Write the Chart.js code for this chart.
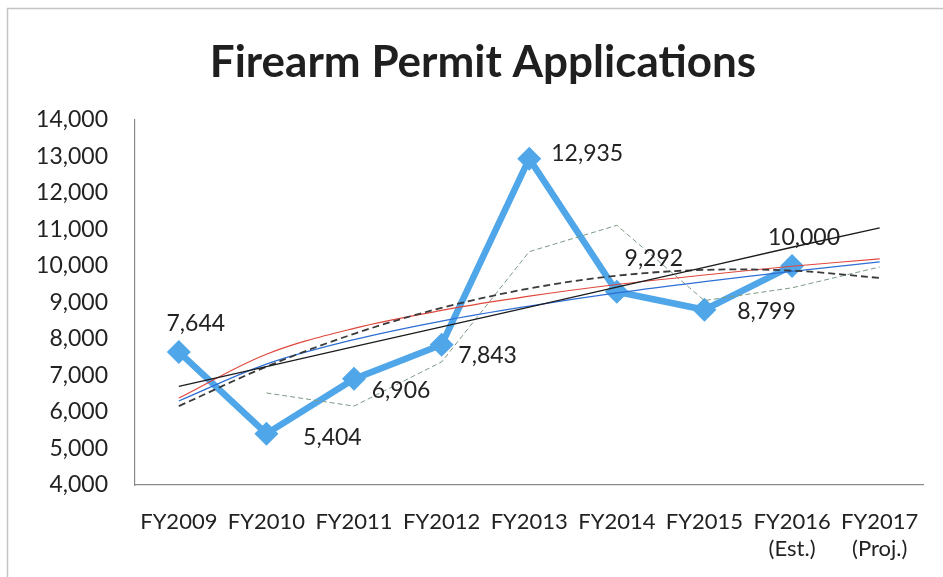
<!DOCTYPE html>
<html>
<head>
<meta charset="utf-8">
<script src="https://cdn.jsdelivr.net/npm/chart.js@4.4.0/dist/chart.umd.min.js"></script>
<style>
  html, body { margin: 0; padding: 0; background: #fff; }
</style>
</head>
<body>
<canvas id="permitChart" width="943" height="577"></canvas>
<script>
// Categories and values
const fiscalYears = ['FY2009', 'FY2010', 'FY2011', 'FY2012', 'FY2013', 'FY2014', 'FY2015', ['FY2016', '(Est.)'], ['FY2017', '(Proj.)']];
const applications = [7644, 5404, 6906, 7843, 12935, 9292, 8799, 10000, null];

// Trend lines
const linearTrend = [6700, 7240, 7790, 8330, 8870, 9420, 9960, 10510, 11040];
const polyTrend = [6160, 7240, 8140, 8850, 9380, 9730, 9890, 9870, 9670];
const logTrend = [6380, 7580, 8290, 8780, 9170, 9490, 9750, 9990, 10190];
const powerTrend = [6300, 7310, 7980, 8490, 8900, 9260, 9570, 9850, 10110];
const movingAvg = [null, 6520, 6160, 7370, 10390, 11110, 9050, 9400, 9970];

const yTicks = { min: 4000, max: 14000, step: 1000 };

// Label offsets from each point (px)
const labelOffsets = [[17, -28], [66, 4], [47, 12], [46, 11], [58, -5], [37, -33], [62, 2], [12, -28]];

Chart.defaults.font.family = "Lato, 'Open Sans', sans-serif";
Chart.defaults.color = '#222';

function formatNumber(num) {
    return new Intl.NumberFormat('en-US').format(num);
}

// White background and thin frame round the chart
const framePlugin = {
    id: 'frame',
    beforeDraw(chart) {
        const c = chart.ctx;
        c.save();
        c.fillStyle = '#fff';
        c.fillRect(0, 0, chart.width, chart.height);
        c.strokeStyle = '#c4c4c4';
        c.lineWidth = 1.5;
        c.strokeRect(7.5, 8.5, chart.width + 20, chart.height + 20);
        c.restore();
    }
};

// Value labels next to the main series
const valueLabels = {
    id: 'valueLabels',
    afterDatasetsDraw(chart) {
        const c = chart.ctx;
        const meta = chart.getDatasetMeta(0);
        c.save();
        c.font = "23px Lato, 'Open Sans', sans-serif";
        c.fillStyle = '#222';
        c.textAlign = 'center';
        c.textBaseline = 'middle';
        meta.data.forEach((pt, i) => {
            const v = applications[i];
            if (v == null) return;
            const off = labelOffsets[i] || [0, -20];
            c.fillText(formatNumber(v), pt.x + off[0], pt.y + off[1]);
        });
        c.restore();
    }
};

function trendSet(label, data, color, width, dash, tension) {
    return {
        label: label,
        data: data,
        borderColor: color,
        borderWidth: width,
        borderDash: dash,
        pointRadius: 0,
        tension: tension,
        fill: false,
        order: 1
    };
}

new Chart(document.getElementById('permitChart'), {
    type: 'line',
    data: {
        labels: fiscalYears,
        datasets: [
            {
                label: 'Applications',
                data: applications,
                borderColor: '#4fa6e8',
                backgroundColor: '#4fa6e8',
                borderWidth: 6.5,
                pointStyle: 'rectRot',
                pointRadius: 12,
                pointBorderWidth: 0,
                tension: 0,
                order: 10
            },
            trendSet('Linear', linearTrend, '#1c1c1c', 1.3, [], 0),
            trendSet('Polynomial', polyTrend, '#3a3a3a', 1.8, [7, 4], 0.35),
            trendSet('Logarithmic', logTrend, '#e0473c', 1.2, [], 0.35),
            trendSet('Power', powerTrend, '#2d6fd4', 1.3, [], 0.35),
            trendSet('Moving average', movingAvg, '#7d9a84', 1, [5, 3], 0)
        ]
    },
    options: {
        responsive: false,
        animation: false,
        layout: { padding: { left: 36, right: 13, top: 0, bottom: 0 } },
        plugins: {
            legend: { display: false },
            tooltip: { enabled: false },
            title: {
                display: true,
                text: 'Firearm Permit Applications',
                color: '#1f1f1f',
                font: { size: 44, weight: 'bold' },
                padding: { top: 36, bottom: 31 }
            }
        },
        scales: {
            x: {
                offset: true,
                grid: { display: false, drawTicks: false },
                border: { display: true, color: '#8a8a8a', width: 1.2 },
                ticks: { font: { size: 22 }, padding: 24, maxRotation: 0, autoSkip: false },
                afterFit(scale) { scale.height = 92; }
            },
            y: {
                min: yTicks.min,
                max: yTicks.max,
                grid: { display: false, drawTicks: false },
                border: { display: true, color: '#8a8a8a', width: 1.2 },
                ticks: {
                    stepSize: yTicks.step,
                    font: { size: 23 },
                    padding: 27,
                    callback: (value) => formatNumber(value)
                },
                afterFit(scale) { scale.width = 99; }
            }
        }
    },
    plugins: [framePlugin, valueLabels]
});
</script>
</body>
</html>
